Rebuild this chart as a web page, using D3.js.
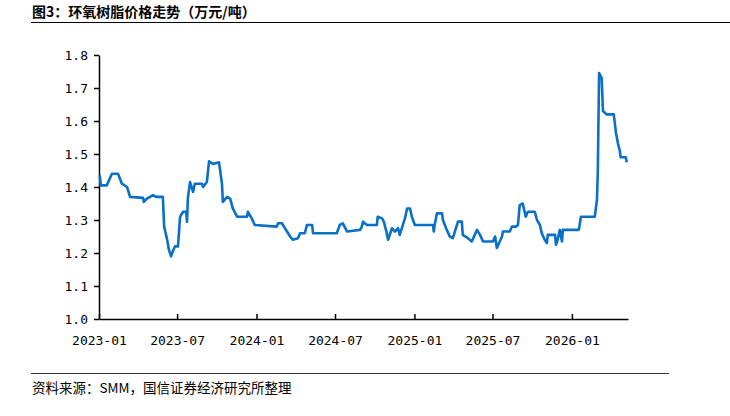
<!DOCTYPE html>
<html>
<head>
<meta charset="utf-8">
<script src="https://cdn.jsdelivr.net/npm/d3@7"></script>
<style>
  body { margin: 0; background: #fff; }
  svg text { fill: #000; }
</style>
</head>
<body>
<div id="chart"></div>
<script>
// 环氧树脂价格 (万元/吨)
var dates = [
  "2023-01-03","2023-01-05","2023-01-19","2023-01-31","2023-02-14","2023-02-23","2023-03-07","2023-03-14",
  "2023-04-13","2023-04-15","2023-04-22","2023-05-06","2023-05-13","2023-05-29","2023-06-01","2023-06-08",
  "2023-06-12","2023-06-17","2023-06-21","2023-06-26","2023-07-03","2023-07-08","2023-07-15","2023-07-22",
  "2023-07-24","2023-07-26","2023-07-31","2023-08-07","2023-08-11","2023-08-28","2023-08-30","2023-09-08",
  "2023-09-13","2023-09-22","2023-10-06","2023-10-13","2023-10-15","2023-10-25","2023-11-01","2023-11-07",
  "2023-11-17","2023-12-10","2023-12-12","2023-12-21","2023-12-28","2024-02-17","2024-02-20","2024-02-29",
  "2024-03-07","2024-03-19","2024-03-25","2024-04-06","2024-04-11","2024-04-22","2024-04-27","2024-05-09",
  "2024-05-11","2024-05-22","2024-07-05","2024-07-12","2024-07-19","2024-07-29","2024-08-28","2024-09-01",
  "2024-09-04","2024-09-13","2024-10-06","2024-10-08","2024-10-18","2024-10-22","2024-10-29","2024-11-01",
  "2024-11-10","2024-11-17","2024-11-24","2024-11-28","2024-12-10","2024-12-15","2024-12-22","2024-12-26",
  "2025-01-02","2025-02-13","2025-02-15","2025-02-17","2025-02-22","2025-03-06","2025-03-08","2025-03-17",
  "2025-03-24","2025-03-31","2025-04-12","2025-04-21","2025-04-23","2025-05-05","2025-05-14","2025-05-26",
  "2025-06-02","2025-06-09","2025-07-02","2025-07-07","2025-07-11","2025-07-23","2025-07-25","2025-08-10",
  "2025-08-15","2025-08-24","2025-08-29","2025-09-02","2025-09-09","2025-09-16","2025-09-21","2025-10-07",
  "2025-10-12","2025-10-19","2025-10-23","2025-10-30","2025-11-04","2025-11-06","2025-11-23","2025-11-25",
  "2025-11-29","2025-12-04","2025-12-09","2025-12-11","2026-01-17","2026-01-22","2026-02-23","2026-02-28",
  "2026-03-02","2026-03-05","2026-03-11","2026-03-14","2026-03-23","2026-04-08","2026-04-13","2026-04-18",
  "2026-04-22","2026-04-24","2026-05-06","2026-05-08"
];
var prices = [
  1.435,1.405,1.405,1.44,1.44,1.41,1.40,1.37,
  1.367,1.355,1.365,1.375,1.37,1.37,1.28,1.24,
  1.21,1.19,1.205,1.22,1.22,1.31,1.325,1.325,
  1.295,1.367,1.415,1.385,1.41,1.41,1.40,1.415,
  1.478,1.47,1.475,1.41,1.355,1.37,1.365,1.335,
  1.31,1.31,1.325,1.305,1.285,1.28,1.29,1.29,
  1.275,1.25,1.24,1.245,1.26,1.26,1.285,1.285,
  1.26,1.26,1.26,1.285,1.29,1.265,1.27,1.28,
  1.295,1.285,1.285,1.31,1.305,1.295,1.26,1.24,
  1.275,1.265,1.275,1.255,1.305,1.335,1.335,1.31,
  1.285,1.285,1.265,1.285,1.32,1.32,1.30,1.27,
  1.25,1.245,1.295,1.295,1.255,1.245,1.235,1.27,
  1.255,1.235,1.235,1.25,1.215,1.25,1.265,1.265,
  1.28,1.28,1.285,1.345,1.35,1.31,1.325,1.325,
  1.30,1.285,1.26,1.24,1.23,1.255,1.255,1.225,
  1.24,1.27,1.235,1.27,1.27,1.31,1.31,1.36,
  1.445,1.745,1.73,1.63,1.62,1.62,1.565,1.53,
  1.51,1.49,1.49,1.475
];
var yTicks = [1.0, 1.1, 1.2, 1.3, 1.4, 1.5, 1.6, 1.7, 1.8];
var xTicks = ["2023-01-01","2023-07-01","2024-01-01","2024-07-01","2025-01-01","2025-07-01","2026-01-01"];
var xStart = "2023-01-01", xEnd = "2026-05-11";

var titleText = "图3：环氧树脂价格走势（万元/吨）";
var sourceText = "资料来源：SMM，国信证券经济研究所整理";

var parse = d3.timeParse("%Y-%m-%d");
var data = d3.zip(dates.map(parse), prices);

var W = 730, H = 416;
var plotLeft = 99, plotRight = 628, plotTop = 55, plotBottom = 319;

var svg = d3.select("#chart").append("svg")
    .attr("width", W)
    .attr("height", H);

var x = d3.scaleTime().domain([parse(xStart), parse(xEnd)]).range([plotLeft, plotRight]);
var y = d3.scaleLinear().domain([1.0, 1.8]).range([plotBottom, plotTop]);

// title + rules
svg.append("text")
    .attr("x", 32).attr("y", 17)
    .attr("font-family", "'Noto Sans CJK SC'")
    .attr("font-size", 14)
    .attr("font-weight", "bold")
    .text(titleText);
svg.append("line")
    .attr("x1", 31).attr("x2", 730).attr("y1", 22.5).attr("y2", 22.5)
    .attr("stroke", "#000").attr("stroke-width", 1);

svg.append("line")
    .attr("x1", 31).attr("x2", 669).attr("y1", 373.5).attr("y2", 373.5)
    .attr("stroke", "#333").attr("stroke-width", 1);
svg.append("text")
    .attr("x", 32).attr("y", 393)
    .attr("font-family", "'Noto Sans CJK SC'")
    .attr("font-size", 13.5)
    .text(sourceText);

// axes
var yAxis = d3.axisLeft(y)
    .tickValues(yTicks)
    .tickSize(5)
    .tickSizeOuter(0)
    .tickPadding(6)
    .tickFormat(d3.format(".1f"));

var xAxis = d3.axisBottom(x)
    .tickValues(xTicks.map(parse))
    .tickSize(-5)
    .tickSizeOuter(0)
    .tickPadding(14)
    .tickFormat(d3.timeFormat("%Y-%m"));

var gy = svg.append("g")
    .attr("transform", "translate(" + plotLeft + ",0)")
    .call(yAxis);

var gx = svg.append("g")
    .attr("transform", "translate(0," + plotBottom + ")")
    .call(xAxis);

[gx, gy].forEach(function(g){
  g.selectAll("path, line").attr("stroke", "#000").attr("stroke-width", 1.5);
  g.selectAll("text")
    .attr("font-family", "'DejaVu Sans Mono'")
    .attr("font-size", 13)
    .attr("fill", "#000");
});
gx.selectAll("text").attr("dy", "0.9em");

// price line
var line = d3.line()
    .x(function(d){ return x(d[0]); })
    .y(function(d){ return y(d[1]); });

svg.append("path")
    .datum(data)
    .attr("d", line)
    .attr("fill", "none")
    .attr("stroke", "#0a70c6")
    .attr("stroke-width", 2.6)
    .attr("stroke-linejoin", "round");
</script>
</body>
</html>
